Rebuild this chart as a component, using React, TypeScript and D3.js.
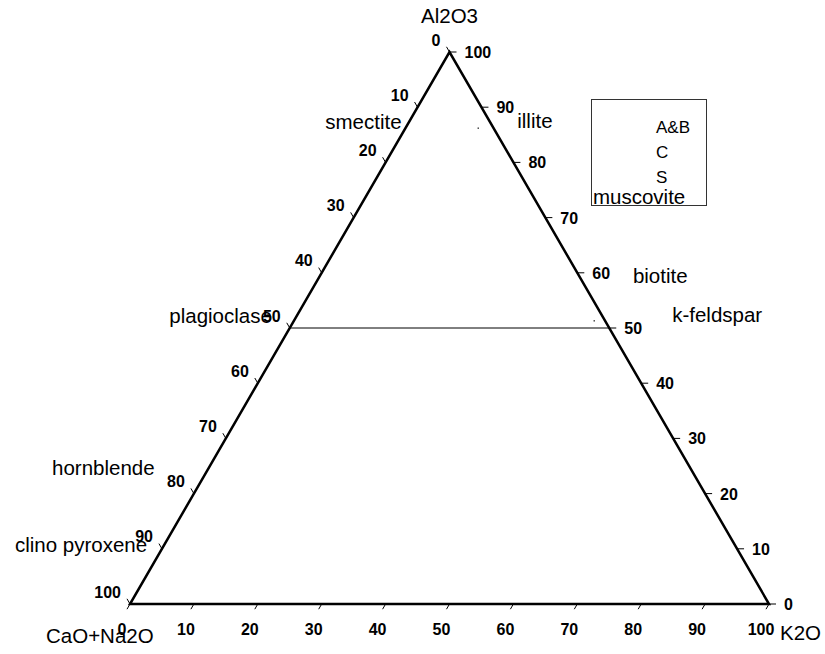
import React from "react";
import * as d3 from "d3";

// ---- data ----
const ticks: number[] = [0, 10, 20, 30, 40, 50, 60, 70, 80, 90, 100];
const axisTitles: string[] = ["Al2O3", "CaO+Na2O", "K2O"];
const legendNames: string[] = ["A&B", "C", "S"];
// mineral label anchors in ternary % (Al2O3, K2O)
const mineralNames: string[] = ["smectite", "illite", "muscovite", "biotite", "k-feldspar", "plagioclase", "hornblende", "clino pyroxene"];
const mineralAl: number[] = [86.0, 86.2, 72.5, 58.2, 51.1, 50.9, 23.4, 9.4];
const mineralK: number[] = [-0.5, 17.5, 36.2, 49.6, 59.3, -19.3, -23.9, -22.7];
const mineralAnchor: string[] = ["end", "start", "start", "start", "start", "start", "start", "start"];
// tiny data points (Al2O3, K2O)
const pointAl: number[] = [86.2, 51.3];
const pointK: number[] = [11.4, 47.0];
// reference line at Al2O3 = 50
const refLineAl: number = 50;

const FONT = "'Liberation Sans', Arial, Helvetica, sans-serif";

export default function App() {
  const W = 825, H = 654;
  const xs = d3.scaleLinear().domain([0, 100]).range([130, 769]);
  const ys = d3.scaleLinear().domain([0, 100]).range([604, 52]);
  const P = (al: number, k: number): [number, number] => [xs(k + al / 2), ys(al)];

  const tri = d3.line()([P(0, 0), P(0, 100), P(100, 0)]) + "Z";
  const [lx1, ly1] = P(refLineAl, 0);
  const [lx2, ly2] = P(refLineAl, 100 - refLineAl);

  const s3 = Math.sqrt(3) / 2;
  const tickLen = 6;

  const bottomTicks = ticks.map((v) => {
    const [x, y] = P(0, v);
    return { v, x, y };
  });
  const leftTicks = ticks.map((v) => {
    const [x, y] = P(100 - v, 0);
    return { v, x, y };
  });
  const rightTicks = ticks.map((v) => {
    const [x, y] = P(v, 100 - v);
    return { v, x, y };
  });

  const [ax, ay] = P(100, 0);
  const [blx, bly] = P(0, 0);
  const [brx, bry] = P(0, 100);

  return (
    <svg width={W} height={H} style={{ position: "absolute", left: 0, top: 0, background: "#fff" }} fontFamily={FONT}>
      <rect x={0} y={0} width={W} height={H} fill="#fff" />
      {/* reference line */}
      <line x1={lx1} y1={ly1} x2={lx2} y2={ly2} stroke="#000" strokeWidth={1} />
      {/* ticks */}
      {bottomTicks.map((t) => (
        <line key={"bt" + t.v} x1={t.x} y1={t.y} x2={t.x - 0.5 * tickLen} y2={t.y + s3 * tickLen} stroke="#000" strokeWidth={1} />
      ))}
      {leftTicks.map((t) => (
        <line key={"lt" + t.v} x1={t.x} y1={t.y} x2={t.x - 0.5 * tickLen} y2={t.y - s3 * tickLen} stroke="#000" strokeWidth={1} />
      ))}
      {rightTicks.map((t) => (
        <line key={"rt" + t.v} x1={t.x} y1={t.y} x2={t.x + 7} y2={t.y} stroke="#000" strokeWidth={1} />
      ))}
      {/* triangle */}
      <path d={tri} fill="none" stroke="#000" strokeWidth={2.5} strokeLinejoin="miter" />
      {/* tiny data points */}
      {pointAl.map((al, i) => {
        const [x, y] = P(al, pointK[i]);
        return <rect key={"p" + i} x={x - 0.7} y={y - 0.7} width={1.4} height={1.4} fill="#333" />;
      })}
      {/* tick labels */}
      <g fontSize={16} fontWeight="bold" fill="#000">
        {bottomTicks.map((t) => (
          <text key={"bl" + t.v} x={t.x - 8} y={t.y + 31} textAnchor="middle">{t.v}</text>
        ))}
        {leftTicks.map((t) => (
          <text key={"ll" + t.v} x={t.x - 9} y={t.y - 6.5} textAnchor="end">{t.v}</text>
        ))}
        {rightTicks.map((t) => (
          <text key={"rl" + t.v} x={t.x + 15} y={t.y + 6} textAnchor="start">{t.v}</text>
        ))}
      </g>
      {/* mineral labels */}
      <g fontSize={20.5} fill="#000">
        {mineralNames.map((n, i) => {
          const [x, y] = P(mineralAl[i], mineralK[i]);
          return (
            <text key={"m" + i} x={x} y={y} textAnchor={mineralAnchor[i] as any}>{n}</text>
          );
        })}
      </g>
      {/* axis titles */}
      <g fontSize={20.5} fill="#000">
        <text x={ax - 28.5} y={ay - 29}>{axisTitles[0]}</text>
        <text x={blx - 84} y={bly + 39}>{axisTitles[1]}</text>
        <text x={brx + 11} y={bry + 36}>{axisTitles[2]}</text>
      </g>
      {/* legend */}
      <rect x={591.5} y={99.5} width={115} height={106} fill="none" stroke="#333" strokeWidth={1} />
      <g fontSize={17} fill="#000">
        {legendNames.map((n, i) => (
          <text key={"lg" + i} x={656} y={133 + i * 25}>{n}</text>
        ))}
      </g>
    </svg>
  );
}
